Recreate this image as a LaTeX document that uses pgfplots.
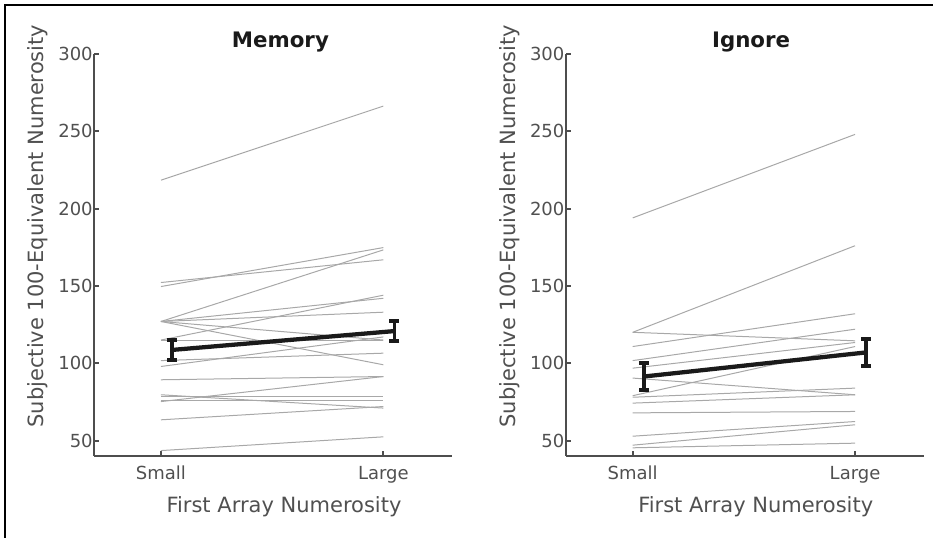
\documentclass[border=0pt]{standalone}
\usepackage{pgfplots}
\pgfplotsset{compat=1.18}
\usepackage{fontspec}
\setmainfont{DejaVu Sans}

\definecolor{axgray}{HTML}{4D4D4D}
\definecolor{txtgray}{HTML}{505050}
\definecolor{subjgray}{HTML}{A8A8A8}
\definecolor{meanblack}{HTML}{1A1A1A}

% 1px of the reference = 0.75pt
\pgfplotsset{
  every axis title shift=0pt,
  panel/.style={
    scale only axis, width=268.5pt, height=301.5pt,
    xmin=0.7, xmax=2.31, ymin=40, ymax=300,
    axis x line*=bottom, axis y line*=left,
    xtick={1,2}, xticklabels={Small,Large},
    ytick={50,100,150,200,250,300},
    tick align=inside, major tick length=3.75pt,
    axis line style={line width=1.5pt, draw=axgray},
    tick style={line width=1.5pt, draw=axgray},
    ticklabel style={font=\fontsize{13.5}{16}\selectfont, text=txtgray},
    xticklabel style={inner sep=0pt, anchor=north, yshift=-7.5pt},
    yticklabel style={inner sep=0pt, anchor=east, xshift=-1pt},
    /pgf/number format/assume math mode=true,
    label style={font=\fontsize{15.75}{18}\selectfont, text=txtgray},
    xlabel={First Array Numerosity},
    ylabel={Subjective 100-Equivalent Numerosity},
    xlabel style={at={(axis description cs:0.53,-0.125)}, anchor=center},
    ylabel style={at={(axis description cs:-0.157,0.572)}, anchor=center, rotate=0},
    title style={at={(axis description cs:0.52,1.03)}, anchor=center,
      font=\fontsize{16}{19}\selectfont\bfseries, text=meanblack},
    clip=false,
  },
  subj/.style={draw=subjgray, line width=0.75pt, mark=none},
  meanline/.style={draw=meanblack, line width=3.2pt, mark=none,
    error bars/.cd, y dir=both, y explicit,
    error bar style={line width=2.6pt, draw=meanblack},
    error mark options={rotate=90, mark size=3.75pt, line width=3pt, draw=meanblack}},
}

\begin{document}
\begin{tikzpicture}
\useasboundingbox (0pt,0pt) rectangle (699.75pt,-403.5pt);
% figure frame (top and left edges only)
\draw[line width=1.5pt, black] (4pt,-403.5pt) -- (4pt,-3.5pt) -- (699.75pt,-3.5pt);

% ---- Memory ----
\begin{axis}[panel, at={(70.7pt,-342pt)}, anchor=south west, title={Memory}]
\addplot[subj] coordinates {(1,218.4) (2,266.3)};
\addplot[subj] coordinates {(1,152.2) (2,166.9)};
\addplot[subj] coordinates {(1,149.6) (2,174.8)};
\addplot[subj] coordinates {(1,127) (2,173.3)};
\addplot[subj] coordinates {(1,127) (2,142)};
\addplot[subj] coordinates {(1,127) (2,133)};
\addplot[subj] coordinates {(1,127) (2,115)};
\addplot[subj] coordinates {(1,127) (2,99)};
\addplot[subj] coordinates {(1,115) (2,144)};
\addplot[subj] coordinates {(1,115) (2,115)};
\addplot[subj] coordinates {(1,101.7) (2,106.5)};
\addplot[subj] coordinates {(1,97.9) (2,117)};
\addplot[subj] coordinates {(1,89.3) (2,91.4)};
\addplot[subj] coordinates {(1,79.6) (2,71)};
\addplot[subj] coordinates {(1,78.5) (2,78.5)};
\addplot[subj] coordinates {(1,75.2) (2,91.4)};
\addplot[subj] coordinates {(1,75.7) (2,75.7)};
\addplot[subj] coordinates {(1,63.4) (2,72)};
\addplot[subj] coordinates {(1,43.5) (2,52.4)};
\addplot[meanline] coordinates {(1.05,108.6) +- (0,6.5) (2.05,120.8) +- (0,6.5)};
\end{axis}

% ---- Ignore ----
\begin{axis}[panel, at={(424.5pt,-342pt)}, anchor=south west, title={Ignore},
  title style={at={(axis description cs:0.517,1.03)}}]
\addplot[subj] coordinates {(1,194) (2,248)};
\addplot[subj] coordinates {(1,120) (2,176)};
\addplot[subj] coordinates {(1,120) (2,114.5)};
\addplot[subj] coordinates {(1,110.8) (2,132)};
\addplot[subj] coordinates {(1,101.7) (2,122)};
\addplot[subj] coordinates {(1,96.8) (2,113.4)};
\addplot[subj] coordinates {(1,90.4) (2,79.6)};
\addplot[subj] coordinates {(1,79) (2,110.8)};
\addplot[subj] coordinates {(1,78) (2,83.9)};
\addplot[subj] coordinates {(1,74.2) (2,79.6)};
\addplot[subj] coordinates {(1,67.9) (2,68.8)};
\addplot[subj] coordinates {(1,52.8) (2,62.3)};
\addplot[subj] coordinates {(1,47) (2,60.2)};
\addplot[subj] coordinates {(1,45.3) (2,48.3)};
\addplot[meanline] coordinates {(1.05,91.4) +- (0,8.6) (2.05,107) +- (0,8.6)};
\end{axis}
\end{tikzpicture}
\end{document}
